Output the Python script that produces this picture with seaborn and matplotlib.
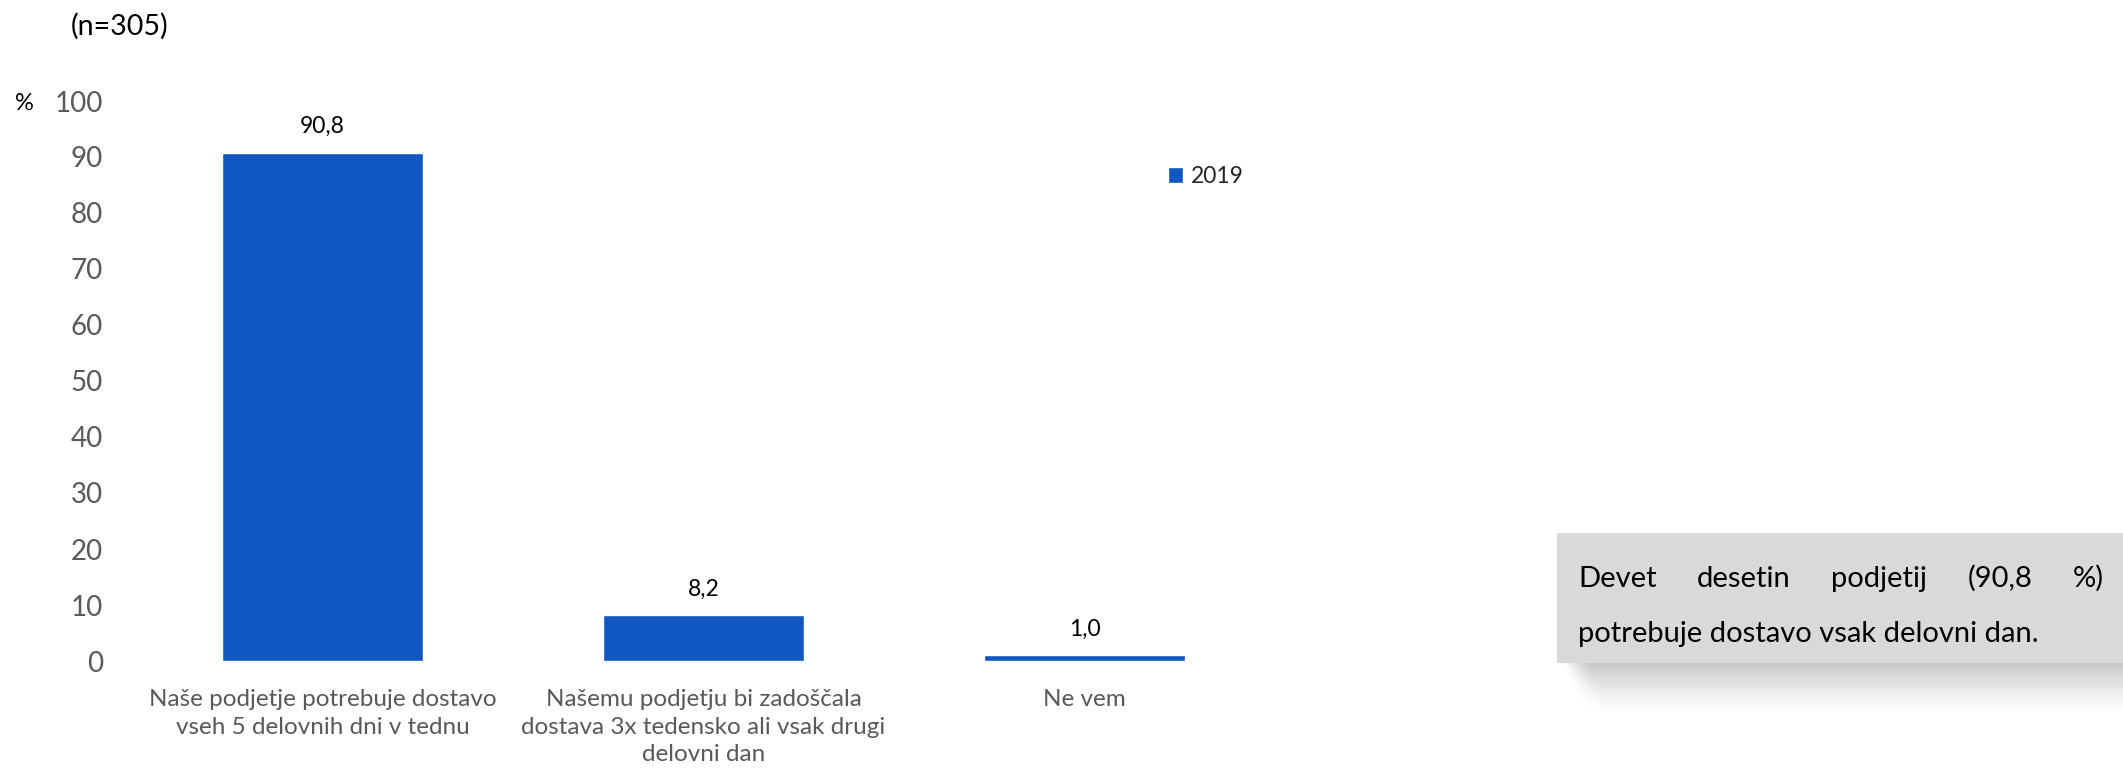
import numpy as np
import pandas as pd
import matplotlib
matplotlib.use("Agg")
import matplotlib.pyplot as plt
import seaborn as sns

# Data
categories = [
    "Naše podjetje potrebuje dostavo\nvseh 5 delovnih dni v tednu",
    "Našemu podjetju bi zadoščala\ndostava 3x tedensko ali vsak drugi\ndelovni dan",
    "Ne vem",
]
values = [90.8, 8.2, 1.0]
year = ["2019", "2019", "2019"]
y_ticks = [0, 10, 20, 30, 40, 50, 60, 70, 80, 90, 100]
sample_note = "(n=305)"
box_line1 = ["Devet", "desetin", "podjetij", "(90,8", "%)"]
box_line2 = "potrebuje dostavo vsak delovni dan."

BLUE = "#1157C2"
GREY_TXT = "#595959"

sns.set_theme(style="white")
plt.rcParams["font.family"] = ["Lato", "DejaVu Sans"]

W, H = 2123, 771
fig = plt.figure(figsize=(W / 100, H / 100), dpi=100)
ax = fig.add_axes([132 / W, 1 - 661 / H, (1275 - 132) / W, (661 - 101) / H])

df = pd.DataFrame({"kategorija": categories, "delez": values, "leto": year})
sns.barplot(data=df, x="kategorija", y="delez", hue="leto", palette=[BLUE],
            width=0.53, dodge=False, ax=ax, saturation=1)

ax.set_ylim(0, 100)
ax.set_yticks(y_ticks)
ax.set_yticklabels([str(t) for t in y_ticks], color=GREY_TXT, fontsize=20)
ax.tick_params(axis="y", length=0, pad=21)
ax.tick_params(axis="x", length=0, pad=20, labelsize=17.5, labelcolor=GREY_TXT)
for lab in ax.get_xticklabels():
    lab.set_linespacing(1.4)
ax.set_xlabel("")
ax.set_ylabel("")
for s in ax.spines.values():
    s.set_visible(False)

# value labels with decimal comma
for cont in ax.containers:
    ax.bar_label(cont, labels=[f"{v:.1f}".replace(".", ",") for v in cont.datavalues],
                 padding=11, fontsize=16.5, color="black")

# legend
leg = ax.legend(loc="upper left", bbox_to_anchor=(1168 / W, 1 - 166 / H),
                bbox_transform=fig.transFigure, frameon=False, fontsize=16.5,
                handlelength=0.65, handleheight=0.65, handletextpad=0.35,
                borderaxespad=0, borderpad=0)

fig.text(24 / W, 1 - 104 / H, "%", fontsize=17, ha="center", va="center", color="black")
fig.text(71 / W, 1 - 26 / H, sample_note, fontsize=20.5, ha="left", va="center", color="black")

# text box with a soft shadow underneath
bx0, by0, by1 = 1557, 533, 663
shadow_ax = fig.add_axes([0, 0, 1, 1], zorder=-1)
shadow_ax.set_xlim(0, W)
shadow_ax.set_ylim(H, 0)
shadow_ax.axis("off")
sh_top, sh_bot = by1, 712
rows = sh_bot - sh_top
cols = W - bx0
img = np.ones((rows, cols, 4))
img[..., :3] = 0.78
yy = np.arange(rows)[:, None] / rows
xx = np.arange(cols)[None, :]
fade_y = np.clip(1 - yy, 0, 1) ** 1.2
left_edge = 5 + 25 * yy
fade_x = np.clip((xx - left_edge) / 25.0, 0, 1)
img[..., 3] = 0.95 * fade_y * fade_x
shadow_ax.imshow(img, extent=(bx0, W, sh_bot, sh_top), aspect="auto", interpolation="bilinear")
shadow_ax.add_patch(plt.Rectangle((bx0, by0), W - bx0 + 5, by1 - by0, facecolor="#D9D9D9",
                                  edgecolor="none"))

# justified first line
tx0, tx1 = 1578, 2104
fig.canvas.draw()
renderer = fig.canvas.get_renderer()
words = []
for w in box_line1:
    t = shadow_ax.text(0, 587, w, fontsize=21, ha="left", va="baseline", color="black")
    words.append(t)
widths = [t.get_window_extent(renderer).width for t in words]
gap = ((tx1 - tx0) - sum(widths)) / (len(words) - 1)
x = tx0
for t, wd in zip(words, widths):
    t.set_x(x)
    x += wd + gap
shadow_ax.text(tx0, 642, box_line2, fontsize=21, ha="left", va="baseline", color="black")

fig.savefig("out.png", dpi=100)
